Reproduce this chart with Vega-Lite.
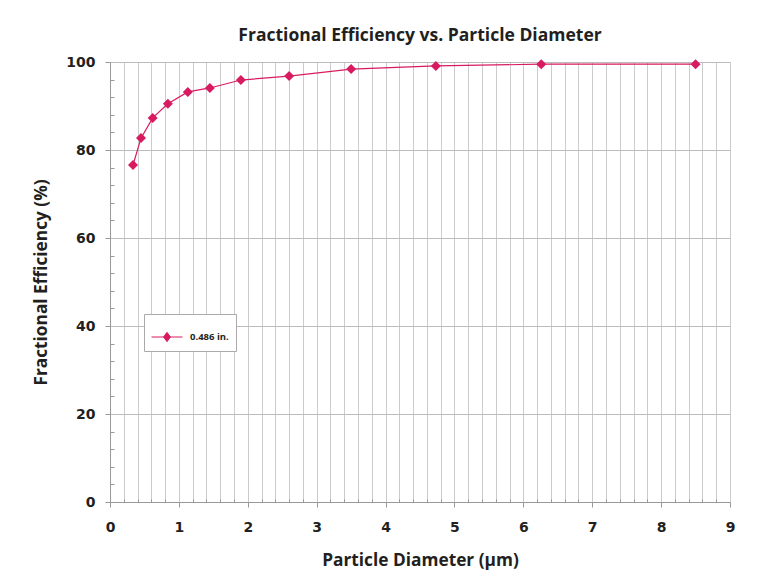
{
  "$schema": "https://vega.github.io/schema/vega-lite/v6.json",
  "width": 620,
  "height": 440,
  "autosize": {"type": "none"},
  "padding": {"left": 110, "top": 62, "right": 33, "bottom": 84},
  "background": "white",
  "title": {
    "text": "Fractional Efficiency vs. Particle Diameter",
    "font": "Open Sans",
    "fontSize": 17.5,
    "fontWeight": "bold",
    "color": "#231f20",
    "anchor": "middle",
    "offset": 11
  },
  "config": {
    "view": {"stroke": null},
    "axis": {
      "labelFont": "DejaVu Sans",
      "labelFontWeight": "bold",
      "labelFontSize": 14,
      "labelColor": "#231f20",
      "titleFont": "Open Sans",
      "titleFontWeight": "bold",
      "titleFontSize": 17.3,
      "titleColor": "#231f20",
      "domainColor": "#999999",
      "tickColor": "#999999",
      "gridColor": "#cccccc",
      "gridWidth": 1
    }
  },
  "data": {
    "values": [
      {"d": 0.334, "eff": 76.6, "series": "0.486 in."},
      {"d": 0.45, "eff": 82.7, "series": "0.486 in."},
      {"d": 0.62, "eff": 87.3, "series": "0.486 in."},
      {"d": 0.84, "eff": 90.5, "series": "0.486 in."},
      {"d": 1.13, "eff": 93.2, "series": "0.486 in."},
      {"d": 1.45, "eff": 94.1, "series": "0.486 in."},
      {"d": 1.9, "eff": 95.9, "series": "0.486 in."},
      {"d": 2.6, "eff": 96.8, "series": "0.486 in."},
      {"d": 3.5, "eff": 98.4, "series": "0.486 in."},
      {"d": 4.73, "eff": 99.1, "series": "0.486 in."},
      {"d": 6.26, "eff": 99.5, "series": "0.486 in."},
      {"d": 8.5, "eff": 99.5, "series": "0.486 in."}
    ]
  },
  "encoding": {
    "x": {
      "field": "d",
      "type": "quantitative",
      "scale": {"domain": [0, 9], "nice": false},
      "axis": {
        "title": "Particle Diameter (µm)",
        "values": [0,0.2,0.4,0.6,0.8,1,1.2,1.4,1.6,1.8,2,2.2,2.4,2.6,2.8,3,3.2,3.4,3.6,3.8,4,4.2,4.4,4.6,4.8,5,5.2,5.4,5.6,5.8,6,6.2,6.4,6.6,6.8,7,7.2,7.4,7.6,7.8,8,8.2,8.4,8.6,8.8,9],
        "labelExpr": "datum.value % 1 === 0 ? format(datum.value, 'd') : ''",
        "tickSize": {"condition": {"test": "datum.value % 1 === 0", "value": 5}, "value": -3},
        "labelPadding": 13,
        "titlePadding": 17,
        "labelFlush": false,
        "labelOverlap": false
      }
    },
    "y": {
      "field": "eff",
      "type": "quantitative",
      "scale": {"domain": [0, 100], "nice": false},
      "axis": {
        "title": "Fractional Efficiency (%)",
        "values": [0,4,8,12,16,20,24,28,32,36,40,44,48,52,56,60,64,68,72,76,80,84,88,92,96,100],
        "labelExpr": "datum.value % 20 === 0 ? datum.label : ''",
        "gridOpacity": {"condition": {"test": "datum.value % 20 === 0", "value": 1}, "value": 0},
        "gridColor": "#bbbbbb",
        "tickSize": {"condition": {"test": "datum.value % 20 === 0", "value": 5}, "value": -4},
        "labelPadding": 10,
        "titlePadding": 15,
        "labelOverlap": false
      }
    },
    "color": {
      "field": "series",
      "type": "nominal",
      "scale": {"range": ["#d81b60"]},
      "legend": {
        "title": null,
        "orient": "none",
        "legendX": 34,
        "legendY": 252,
        "symbolType": "M-1,0H1M-0.22,0L0,-0.3L0.22,0L0,0.3Z",
        "symbolSize": 961,
        "symbolStrokeWidth": 1,
        "labelFont": "Open Sans",
        "labelFontWeight": "bold",
        "labelFontSize": 9.5,
        "labelColor": "#231f20",
        "strokeColor": "#aaaaaa",
        "fillColor": "white",
        "padding": 7,
        "labelOffset": 7,
        "symbolOffset": 0
      }
    }
  },
  "layer": [
    {"mark": {"type": "line", "strokeWidth": 1.2}},
    {"mark": {"type": "point", "shape": "diamond", "filled": true, "size": 100, "opacity": 1}}
  ]
}
